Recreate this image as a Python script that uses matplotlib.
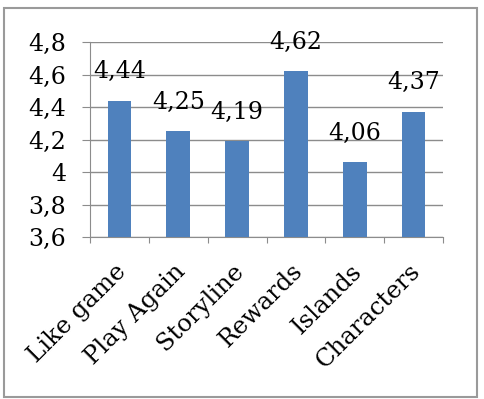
import matplotlib
matplotlib.use("Agg")
import matplotlib.pyplot as plt
from matplotlib.patches import Rectangle
import numpy as np

categories = ["Like game", "Play Again", "Storyline", "Rewards", "Islands", "Characters"]
values = [4.44, 4.25, 4.19, 4.62, 4.06, 4.37]
yticks = [3.6, 3.8, 4.0, 4.2, 4.4, 4.6, 4.8]
ytick_labels = ["3,6", "3,8", "4", "4,2", "4,4", "4,6", "4,8"]
value_labels = ["4,44", "4,25", "4,19", "4,62", "4,06", "4,37"]

plt.rcParams['font.family'] = ['DejaVu Serif']
W, H = 484, 399
fig = plt.figure(figsize=(W/100, H/100), dpi=100)
ax = fig.add_axes([90/W, 1-237/H, (443-90)/W, (237-42)/H])

x = np.arange(len(categories))
ax.bar(x, values, width=0.4, color="#4F81BD", zorder=3)
ax.set_ylim(3.6, 4.8)
ax.set_xlim(-0.5, len(categories)-0.5)
ax.set_yticks(yticks)
ax.set_yticklabels(ytick_labels, fontsize=17)
ax.yaxis.grid(True, color="#8c8c8c", linewidth=1, zorder=0)
ax.set_xticks(np.arange(-0.5, len(categories)))
ax.set_xticklabels([])
ax.tick_params(axis="x", length=4.3, color="#8c8c8c", direction="out")
ax.tick_params(axis="y", length=5.8, color="#8c8c8c", pad=11.5)
for s in ["top", "right"]:
    ax.spines[s].set_visible(False)
for s in ["left", "bottom"]:
    ax.spines[s].set_color("#8c8c8c")

for xi, cat in zip(x, categories):
    ax.annotate(cat, (xi, 0), xycoords=("data", "axes fraction"),
                xytext=(-5, -22.5), textcoords="offset pixels",
                rotation=45, ha="right", va="top", rotation_mode="anchor",
                fontsize=17.5, annotation_clip=False)

for xi, v, lab in zip(x, values, value_labels):
    ax.annotate(lab, (xi, v), xytext=(0, 29), textcoords="offset pixels",
                ha="center", va="center", fontsize=17, zorder=4)

fig.patches.append(Rectangle((4/W, 1-397/H), (477-4)/W, (397-8)/H, transform=fig.transFigure,
                             fill=False, edgecolor="#9a9a9a", linewidth=1.5))
fig.savefig("out.png", dpi=100)
